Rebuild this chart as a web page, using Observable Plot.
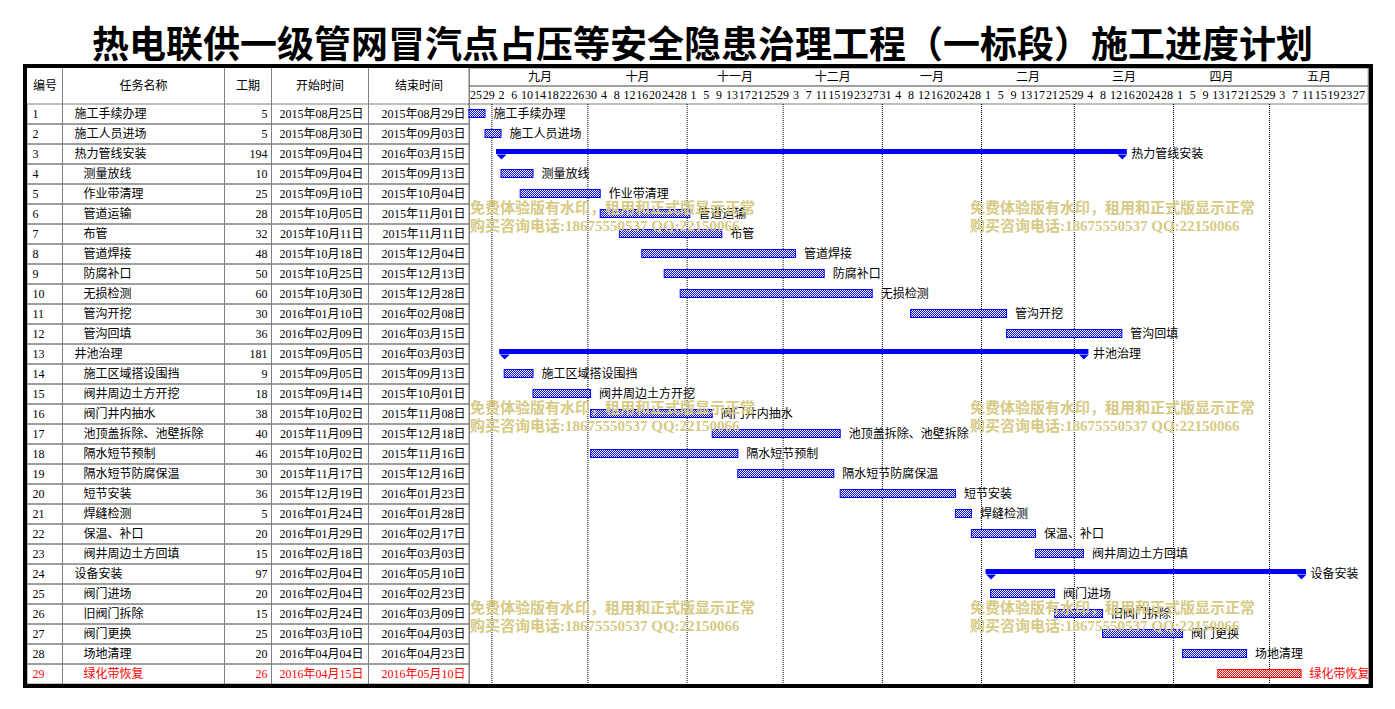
<!DOCTYPE html>
<html><head><meta charset="utf-8">
<script src="https://cdn.jsdelivr.net/npm/d3@7"></script>
<script src="https://cdn.jsdelivr.net/npm/@observablehq/plot@0.6"></script>
<style>
html,body{margin:0;padding:0;background:#fff;width:1395px;height:709px;overflow:hidden;}
#title{position:absolute;left:0;top:18px;width:1405px;text-align:center;font-family:"Noto Sans CJK SC",sans-serif;font-weight:bold;font-size:37px;line-height:48px;color:#000;white-space:nowrap}
#frame{position:absolute;left:23px;top:64px;width:1342px;height:616px;border:4px solid #000;background:#fff;overflow:hidden}
.pane{position:absolute}
.pane svg{overflow:visible;display:block}
.wm{position:absolute;color:#d6ca85;font-family:"Liberation Serif","Noto Sans CJK SC",serif;font-weight:bold;font-size:15px;line-height:18px;white-space:nowrap;pointer-events:none}
</style></head><body>
<svg width="0" height="0" style="position:absolute"><defs>
<pattern id="chkBlue" width="2" height="2" patternUnits="userSpaceOnUse"><rect width="2" height="2" fill="#fff"/><rect width="1" height="1" fill="#0000ff"/><rect x="1" y="1" width="1" height="1" fill="#0000ff"/></pattern>
<pattern id="chkRed" width="2" height="2" patternUnits="userSpaceOnUse"><rect width="2" height="2" fill="#fff"/><rect width="1" height="1" fill="#ff0000"/><rect x="1" y="1" width="1" height="1" fill="#ff0000"/></pattern>
</defs></svg>
<div id="title">热电联供一级管网冒汽点占压等安全隐患治理工程（一标段）施工进度计划</div>
<div id="frame">
  <div id="th" class="pane" style="left:0;top:0"></div>
  <div id="tb" class="pane" style="left:0;top:36px"></div>
  <div id="gh" class="pane" style="left:442px;top:0"></div>
  <div id="gb" class="pane" style="left:442px;top:36px"></div>
</div>
<div id="wms"></div>
<script>
// ---------------- data ----------------
const headLabels = ["编号", "任务名称", "工期", "开始时间", "结束时间"];
const names = ["施工手续办理","施工人员进场","热力管线安装","测量放线","作业带清理","管道运输","布管","管道焊接","防腐补口","无损检测","管沟开挖","管沟回填","井池治理","施工区域搭设围挡","阀井周边土方开挖","阀门井内抽水","池顶盖拆除、池壁拆除","隔水短节预制","隔水短节防腐保温","短节安装","焊缝检测","保温、补口","阀井周边土方回填","设备安装","阀门进场","旧阀门拆除","阀门更换","场地清理","绿化带恢复"];
const durations = [5,5,194,10,25,28,32,48,50,60,30,36,181,9,18,38,40,46,30,36,5,20,15,97,20,15,25,20,26];
const starts = ["2015-08-25","2015-08-30","2015-09-04","2015-09-04","2015-09-10","2015-10-05","2015-10-11","2015-10-18","2015-10-25","2015-10-30","2016-01-10","2016-02-09","2015-09-05","2015-09-05","2015-09-14","2015-10-02","2015-11-09","2015-10-02","2015-11-17","2015-12-19","2016-01-24","2016-01-29","2016-02-18","2016-02-04","2016-02-04","2016-02-24","2016-03-10","2016-04-04","2016-04-15"];
const ends = ["2015-08-29","2015-09-03","2016-03-15","2015-09-13","2015-10-04","2015-11-01","2015-11-11","2015-12-04","2015-12-13","2015-12-28","2016-02-08","2016-03-15","2016-03-03","2015-09-13","2015-10-01","2015-11-08","2015-12-18","2015-11-16","2015-12-16","2016-01-23","2016-01-28","2016-02-17","2016-03-03","2016-05-10","2016-02-23","2016-03-09","2016-04-03","2016-04-23","2016-05-10"];
const topLevelIds = [1, 2, 3, 13, 24];
const summaryIds = [3, 13, 24];
const highlightIds = [29];
const monthStarts = ["2015-09-01","2015-10-01","2015-11-01","2015-12-01","2016-01-01","2016-02-01","2016-03-01","2016-04-01","2016-05-01"];
const monthLabels = ["九月","十月","十一月","十二月","一月","二月","三月","四月","五月"];
const timeStart = "2015-08-25";
const timeEnd = "2016-06-01";
const dayTickStep = 4;
const watermarkLines = ["免费体验版有水印，租用和正式版显示正常", "购买咨询电话:18675550537 QQ:22150066"];

// ---------------- layout ----------------
const TW = 442, GW = 900, HH = 36, RH = 20;
const colW = [35, 162, 47, 97, 101];
const colEdge = [0]; colW.forEach(w => colEdge.push(colEdge[colEdge.length - 1] + w));
const GRAY = "#808080", BLUE = "#0000ff", RED = "#ff0000";
const wmSpots = [[470, 199], [970, 199], [470, 399], [970, 399], [470, 599], [970, 599]];

const parse = s => new Date(s + "T00:00:00Z");
const fmt = d3.utcFormat("%Y年%m月%d日");
const tasks = names.map((name, i) => {
  const id = i + 1;
  const start = parse(starts[i]), end = parse(ends[i]);
  const hi = highlightIds.includes(id);
  return {id, name, dur: durations[i], start, end, endX: d3.utcDay.offset(end, 1),
    top: topLevelIds.includes(id), summary: summaryIds.includes(id), hi,
    color: hi ? RED : "#000000"};
});
const x0 = parse(timeStart), x1 = parse(timeEnd);
const months = monthStarts.map((s, i) => {
  const a = parse(s), b = i + 1 < monthStarts.length ? parse(monthStarts[i + 1]) : x1;
  return {start: a, mid: new Date((+a + +b) / 2), label: monthLabels[i]};
});
const dayTicks = d3.utcDay.range(x0, x1, dayTickStep);
const dayCells = dayTicks.filter(d => d3.utcDay.offset(d, dayTickStep) <= x1);

const base = {
  marginLeft: 0, marginRight: 0, marginTop: 0, marginBottom: 0,
  style: {fontSize: "12px", fontFamily: '"Liberation Serif","Noto Sans CJK SC",serif', background: "transparent", color: "#000", overflow: "visible"}
};
const xTable = {type: "linear", domain: [0, TW], range: [0, TW], axis: null};
const xTime = {type: "utc", domain: [x0, x1], range: [0, GW - 0.8], axis: null};
const yRows = {type: "band", domain: tasks.map(d => d.id), padding: 0, axis: null};

// table header
document.getElementById("th").append(Plot.plot({
  ...base, width: TW, height: HH, x: xTable,
  marks: [
    Plot.ruleX(colEdge.slice(1, -1), {stroke: GRAY}),
    Plot.text(headLabels, {x: (d, i) => (colEdge[i] + colEdge[i + 1]) / 2, text: d => d, frameAnchor: "middle"})
  ]
}));

// table body
document.getElementById("tb").append(Plot.plot({
  ...base, width: TW, height: RH * tasks.length, x: xTable, y: yRows, color: {type: "identity"},
  marks: [
    Plot.barX(tasks, {x1: () => 0, x2: () => TW, y: "id", fill: "none", stroke: GRAY}),
    Plot.ruleX(colEdge.slice(1, -1), {stroke: GRAY}),
    Plot.text(tasks, {x: () => colEdge[0], y: "id", text: d => String(d.id), textAnchor: "start", dx: 5, fill: "color"}),
    Plot.text(tasks.filter(d => d.top), {x: () => colEdge[1], y: "id", text: "name", textAnchor: "start", dx: 12, fill: "color"}),
    Plot.text(tasks.filter(d => !d.top), {x: () => colEdge[1], y: "id", text: "name", textAnchor: "start", dx: 21, fill: "color"}),
    Plot.text(tasks, {x: () => colEdge[3], y: "id", text: d => String(d.dur), textAnchor: "end", dx: -4, fill: "color"}),
    Plot.text(tasks, {x: () => colEdge[4], y: "id", text: d => fmt(d.start), textAnchor: "end", dx: -5, fill: "color"}),
    Plot.text(tasks, {x: () => colEdge[5], y: "id", text: d => fmt(d.end), textAnchor: "end", dx: -4, fill: "color"})
  ]
}));

// gantt header
document.getElementById("gh").append(Plot.plot({
  ...base, width: GW, height: HH, x: xTime, y: {type: "band", domain: ["m", "d"], padding: 0, axis: null},
  marks: [
    Plot.barX(["m", "d"], {x1: () => x0, x2: () => x1, y: d => d, fill: "none", stroke: GRAY}),
    Plot.ruleX([x0, x1], {stroke: GRAY}),
    Plot.ruleX(months, {x: "start", y: () => "m", stroke: GRAY}),
    Plot.ruleX(dayTicks, {x: d => d, y: () => "d", stroke: GRAY}),
    Plot.text(months, {x: "mid", y: () => "m", text: "label"}),
    Plot.text(dayCells, {x: d => d3.utcHour.offset(d, dayTickStep * 12), y: () => "d", text: d => String(d.getUTCDate())})
  ]
}));

// gantt body
const downTri = {draw(ctx) { ctx.moveTo(-5, 0); ctx.lineTo(5, 0); ctx.lineTo(0, 5); ctx.closePath(); }};
const summary = tasks.filter(d => d.summary);
const normal = tasks.filter(d => !d.summary);
const gb = Plot.plot({
  ...base, width: GW, height: RH * tasks.length, x: xTime, y: yRows, color: {type: "identity"},
  marks: [
    Plot.ruleX([x0, x1], {stroke: GRAY}),
    Plot.ruleX(months, {x: "start", stroke: "#000", strokeDasharray: "1,1"}),
    Plot.barX(normal.filter(d => !d.hi), {x1: "start", x2: "endX", y: "id", insetTop: 5.5, insetBottom: 6.5, fill: "url(#chkBlue)", stroke: BLUE, ariaLabel: "bars-blue"}),
    Plot.barX(normal.filter(d => d.hi), {x1: "start", x2: "endX", y: "id", insetTop: 5.5, insetBottom: 6.5, fill: "url(#chkRed)", stroke: RED, ariaLabel: "bars-red"}),
    Plot.barX(summary, {x1: "start", x2: "endX", y: "id", insetTop: 5, insetBottom: 10, insetLeft: -5, insetRight: -5, fill: BLUE}),
    Plot.dot(summary.flatMap(d => [{x: d.start, id: d.id}, {x: d.endX, id: d.id}]), {x: "x", y: "id", symbol: downTri, fill: BLUE, stroke: "none", r: 5}),
    Plot.text(normal, {x: "endX", y: "id", text: "name", textAnchor: "start", dx: 8, fill: "color"}),
    Plot.text(summary, {x: "endX", y: "id", text: "name", textAnchor: "start", dx: 9, fill: "color"})
  ]
});
gb.querySelectorAll('g[aria-label="bars-blue"]').forEach(g => { g.setAttribute("fill", "url(#chkBlue)"); g.setAttribute("stroke", BLUE); });
gb.querySelectorAll('g[aria-label="bars-red"]').forEach(g => { g.setAttribute("fill", "url(#chkRed)"); g.setAttribute("stroke", RED); });
document.getElementById("gb").append(gb);

// watermarks
const wm = document.getElementById("wms");
wmSpots.forEach(([l, t]) => {
  watermarkLines.forEach((line, k) => {
    const div = document.createElement("div");
    div.className = "wm";
    div.style.left = l + "px";
    div.style.top = (t + k * 18) + "px";
    div.textContent = line;
    wm.append(div);
  });
});
</script>
</body></html>
